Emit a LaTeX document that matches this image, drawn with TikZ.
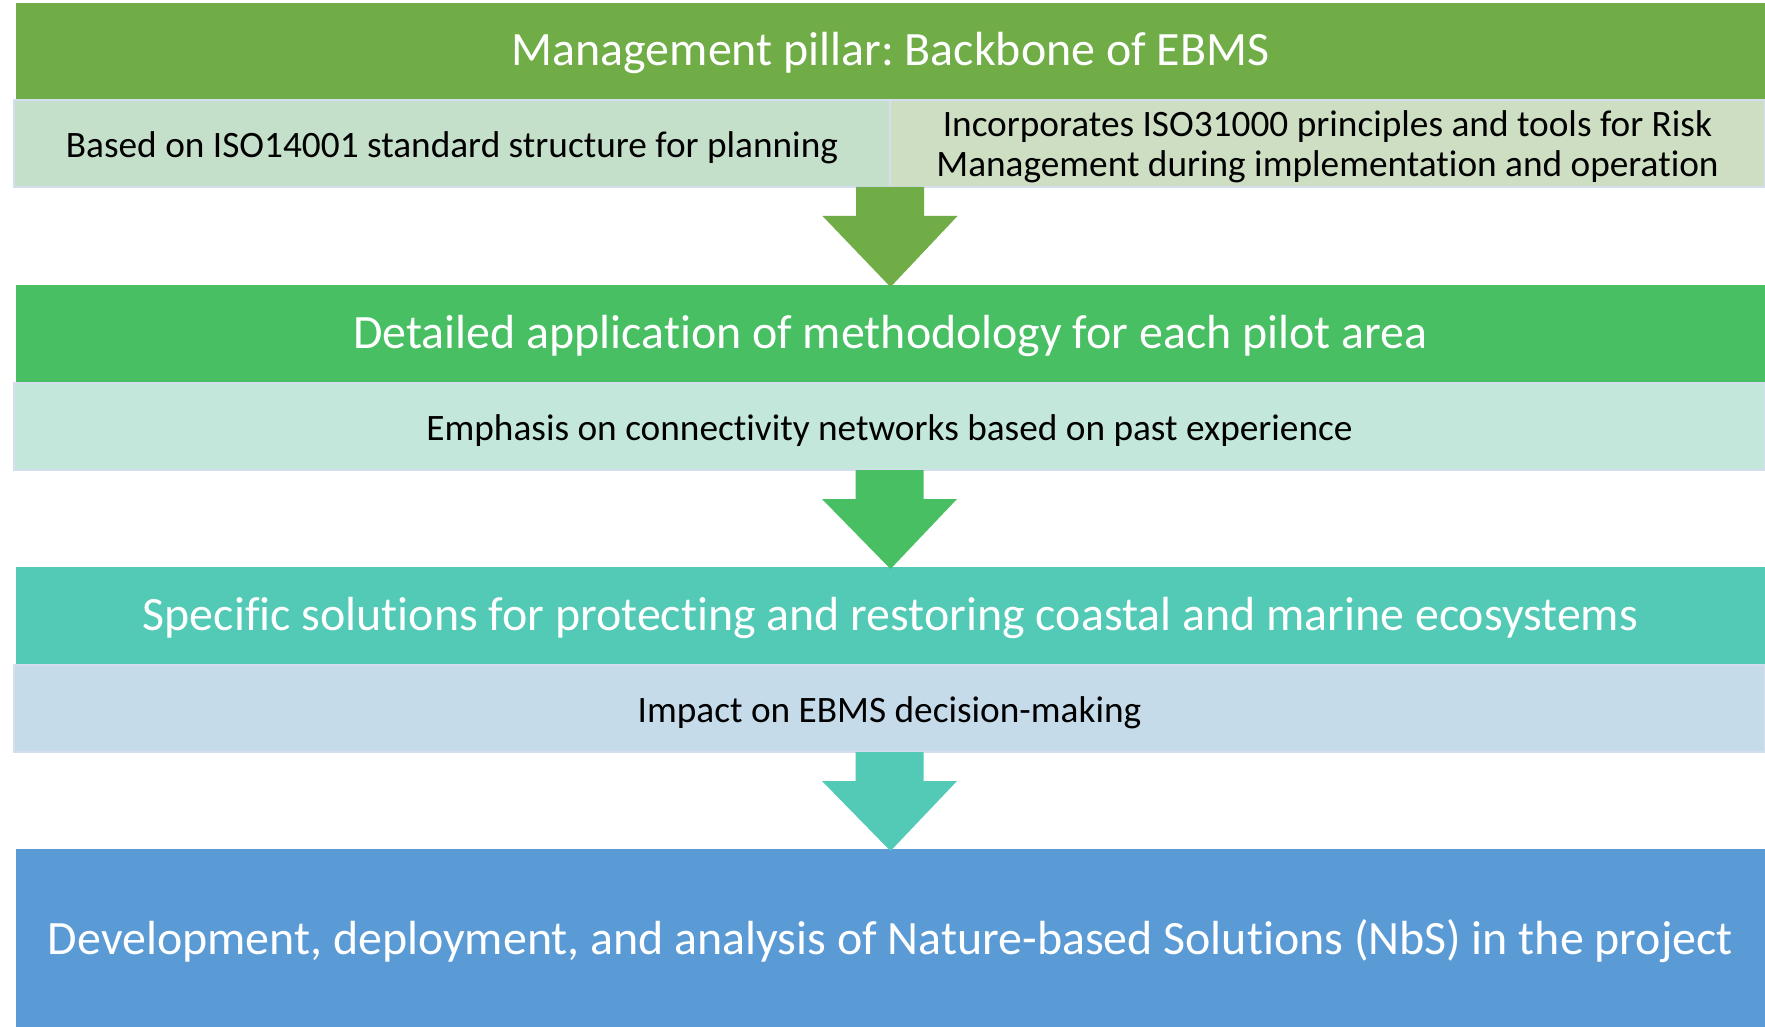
\documentclass[tikz,border=0pt]{standalone}
\usepackage{fontspec}
\setmainfont[Ligatures={NoCommon}]{Carlito}
\usetikzlibrary{calc}
\frenchspacing
\definecolor{hA}{RGB}{112,173,71}
\definecolor{hB}{RGB}{72,191,99}
\definecolor{hC}{RGB}{82,202,182}
\definecolor{hD}{RGB}{91,155,213}
\definecolor{sA}{RGB}{197,224,202}
\definecolor{sAr}{RGB}{205,222,194}
\definecolor{sB}{RGB}{195,231,219}
\definecolor{sC}{RGB}{197,219,233}
\definecolor{sline}{RGB}{212,222,238}
\tikzset{
  hdr/.style={anchor=north west, inner sep=0pt, outer sep=0pt, text=white,
    font=\fontsize{47.9}{56}\selectfont, text height=38.6pt, text depth=9.6pt},
  subbox/.style={anchor=north west, inner sep=0pt, outer sep=0pt, text=black,
    draw=sline, line width=1.5pt,
    font=\fontsize{37.3}{40.5}\selectfont},
  oneline/.style={text height=36pt, text depth=7.5pt},
  subtext/.style={inner sep=0pt, text=black, align=center,
    font=\fontsize{37.3}{40.5}\selectfont},
}
\newcommand{\blockarr}[3]{%
  \fill[#3] ($(#1)+(-34,0)$) -- ($(#1)+(34,0)$) -- ($(#1)+(34,29)$) -- ($(#1)+(67.5,29)$)
    -- ($(#2)+(0,2)$) -- ($(#1)+(-67.5,29)$) -- ($(#1)+(-34,29)$) -- cycle;}
\begin{document}
\begin{tikzpicture}[x=1pt,y=-1pt]
\useasboundingbox[fill=white] (0,0) rectangle (1765,1027);
% row 1
\node[hdr, fill=hA, minimum width=1749pt, minimum height=97pt] (h1) at (16,3) {Management pillar: Backbone of EBMS};
\node[subbox, oneline, fill=sA, minimum width=876pt, minimum height=87pt] (s1l) at (14,100) {Based on ISO14001 standard structure for planning};
\node[subbox, fill=sAr, minimum width=875pt, minimum height=87pt] (s1r) at (890,100) {};
\node[subtext] (s1rt) at ($(s1r.center)+(0,3.4)$) {Incorporates ISO31000 principles and tools for Risk\\Management during implementation and operation};
% row 2
\node[hdr, fill=hB, minimum width=1749pt, minimum height=98pt] (h2) at (16,285) {Detailed application of methodology for each pilot area};
\node[subbox, oneline, fill=sB, minimum width=1751pt, minimum height=87pt] (s2) at (14,383) {Emphasis on connectivity networks based on past experience};
% row 3
\node[hdr, fill=hC, minimum width=1749pt, minimum height=98pt] (h3) at (16,567) {Specific solutions for protecting and restoring coastal and marine ecosystems};
\node[subbox, oneline, fill=sC, minimum width=1751pt, minimum height=87pt] (s3) at (14,665) {Impact on EBMS decision-making};
% row 4
\node[hdr, fill=hD, minimum width=1749pt, minimum height=178pt, text height=43.2pt] (h4) at (16,849) {Development, deployment, and analysis of Nature-based Solutions (NbS) in the project};
% arrows
\coordinate (a1) at (s1l.south east);
\blockarr{a1}{h2.north}{hA}
\blockarr{s2.south}{h3.north}{hB}
\blockarr{s3.south}{h4.north}{hC}
\end{tikzpicture}
\end{document}
